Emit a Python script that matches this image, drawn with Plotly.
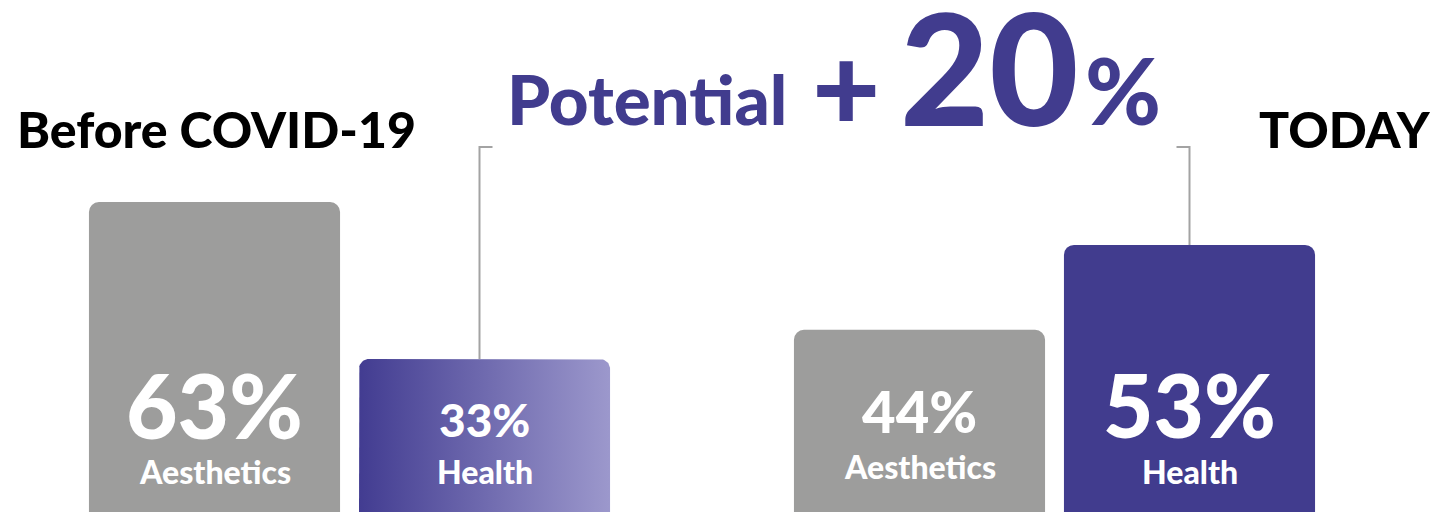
import numpy as np
import plotly.graph_objects as go

# ---------------- data ----------------
periods = ["Before COVID-19", "TODAY"]
categories = ["Aesthetics", "Health"]
before_values = [63, 33]
today_values = [44, 53]
potential_gain = 20

# ---------------- style ----------------
W, H = 1433, 512
GRAY = "#9d9d9c"
INDIGO = "#413c8e"
GRAD = [[0, "#423c91"], [1, "#9c98cc"]]
LINE = "#a3a3a3"
FONT = "Lato"
BAR_W = 0.93
RADIUS_PX = 10

dom1 = [79.5 / W, 619.5 / W]
dom2 = [784.5 / W, 1324.5 / W]
yr1 = [3.76, 101.6]
yr2 = [24.7, 78.95]
xr = [-0.5, 1.5]
xpos = [0, 1]

def px_per_x(dom):
    return (dom[1] - dom[0]) * W / (xr[1] - xr[0])

def px_per_y(yr):
    return H / (yr[1] - yr[0])

fig = go.Figure()

# Before: Aesthetics bar (solid gray)
fig.add_trace(go.Bar(x=[xpos[0]], y=[before_values[0]], width=BAR_W,
                     marker=dict(color=GRAY, cornerradius=RADIUS_PX, line=dict(width=0)),
                     xaxis="x", yaxis="y", hoverinfo="skip", showlegend=False))

# Before: Health bar (horizontal gradient) as a rounded-top filled shape built from the value
v = before_values[1]
cx = xpos[1]
rx = RADIUS_PX / px_per_x(dom1)
ry = RADIUS_PX / px_per_y(yr1)
x0, x1 = cx - BAR_W / 2, cx + BAR_W / 2
t1 = np.linspace(np.pi, np.pi / 2, 12)
t2 = np.linspace(np.pi / 2, 0, 12)
gx = [x0] + list(x0 + rx + rx * np.cos(t1)) + list(x1 - rx + rx * np.cos(t2)) + [x1, x0]
gy = [0] + list(v - ry + ry * np.sin(t1)) + list(v - ry + ry * np.sin(t2)) + [0, 0]
fig.add_trace(go.Scatter(x=gx, y=gy, mode="lines", fill="toself",
                         line=dict(width=0, color="rgba(0,0,0,0)"),
                         fillgradient=dict(type="horizontal", colorscale=GRAD),
                         xaxis="x", yaxis="y", hoverinfo="skip", showlegend=False))

# Today bars
fig.add_trace(go.Bar(x=xpos, y=today_values, width=BAR_W,
                     marker=dict(color=[GRAY, INDIGO], cornerradius=RADIUS_PX, line=dict(width=0)),
                     xaxis="x2", yaxis="y2", hoverinfo="skip", showlegend=False))

# ---------------- brackets ----------------
BRACKET_PX = 147
STUB_PX = 13
yb1 = yr1[1] - BRACKET_PX / px_per_y(yr1)
yb2 = yr2[1] - BRACKET_PX / px_per_y(yr2)
s1 = STUB_PX / px_per_x(dom1)
s2 = STUB_PX / px_per_x(dom2)
bx1 = xpos[1] - 5 / px_per_x(dom1)
bx2 = xpos[1]
fig.add_shape(type="path", xref="x", yref="y",
              path=f"M {bx1},{before_values[1]} L {bx1},{yb1} L {bx1 + s1},{yb1}",
              line=dict(color=LINE, width=2))
fig.add_shape(type="path", xref="x2", yref="y2",
              path=f"M {bx2},{today_values[1]} L {bx2},{yb2} L {bx2 - s2},{yb2}",
              line=dict(color=LINE, width=2))

# ---------------- labels ----------------
def add_label(xref, x, text, size, ypx):
    fig.add_annotation(xref=xref, yref="paper", x=x, y=1 - ypx / H, text=text,
                       showarrow=False, xanchor="center", yanchor="middle",
                       font=dict(family=FONT, size=size, color="white", weight=900))

add_label("x", xpos[0], f"{before_values[0]}%", 89, 404)
add_label("x", xpos[0], categories[0], 32, 471)
add_label("x", xpos[1], f"{before_values[1]}%", 46, 419)
add_label("x", xpos[1], categories[1], 32, 471)
add_label("x2", xpos[0], f"{today_values[0]}%", 58, 410)
add_label("x2", xpos[0], categories[0], 32, 466)
add_label("x2", xpos[1], f"{today_values[1]}%", 87, 404)
add_label("x2", xpos[1], categories[1], 32, 471)

# headings
fig.add_annotation(xref="paper", yref="paper", x=15 / W, y=1 - 129 / H, text=periods[0],
                   showarrow=False, xanchor="left", yanchor="middle",
                   font=dict(family=FONT, size=50, color="black", weight=900))
fig.add_annotation(xref="paper", yref="paper", x=1433 / W, y=1 - 129 / H, text=periods[1],
                   showarrow=False, xanchor="right", yanchor="middle",
                   font=dict(family=FONT, size=50, color="black", weight=900))

# title "Potential +20%"
fig.add_annotation(xref="paper", yref="paper", x=789 / W, y=1 - 98 / H, text="Potential",
                   showarrow=False, xanchor="right", yanchor="middle",
                   font=dict(family=FONT, size=69, color=INDIGO, weight=900))
fig.add_annotation(xref="paper", yref="paper", x=846 / W, y=1 - 85 / H, text="+",
                   showarrow=False, xanchor="center", yanchor="middle",
                   font=dict(family=FONT, size=118, color=INDIGO, weight=900))
fig.add_annotation(xref="paper", yref="paper", x=989 / W, y=1 - 66 / H, text=f"{potential_gain}",
                   showarrow=False, xanchor="center", yanchor="middle",
                   font=dict(family=FONT, size=154, color=INDIGO, weight=900))
fig.add_annotation(xref="paper", yref="paper", x=1123 / W, y=1 - 89 / H, text="%",
                   showarrow=False, xanchor="center", yanchor="middle",
                   font=dict(family=FONT, size=92, color=INDIGO, weight=900))

axis_off = dict(visible=False, showgrid=False, zeroline=False, fixedrange=True)
fig.update_layout(
    width=W, height=H,
    margin=dict(l=0, r=0, t=0, b=0),
    paper_bgcolor="white", plot_bgcolor="white",
    xaxis=dict(domain=dom1, range=xr, **axis_off),
    yaxis=dict(domain=[0, 1], range=yr1, **axis_off),
    xaxis2=dict(domain=dom2, range=xr, anchor="y2", **axis_off),
    yaxis2=dict(domain=[0, 1], range=yr2, anchor="x2", **axis_off),
    barmode="overlay",
    showlegend=False,
)

fig.write_html("out.html", config={"displayModeBar": False})
